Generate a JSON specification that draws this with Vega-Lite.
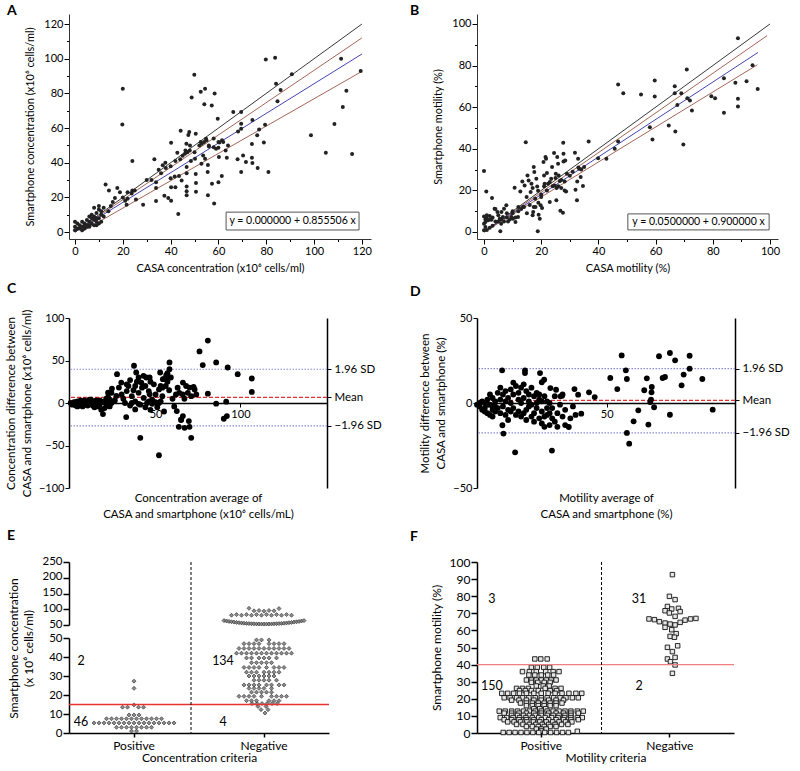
{
"$schema":"https://vega.github.io/schema/vega-lite/v6.json",
"padding":{"left":5,"top":4,"right":5,"bottom":2},
"config":{"font":"Lato","view":{"stroke":null},
"axis":{"grid":false,"domainColor":"#000","tickColor":"#000","labelColor":"#000","titleColor":"#000","labelFontSize":11,"titleFontSize":11,"titleFontWeight":"normal","tickSize":4,"labelPadding":1,"titlePadding":8,"labelFont":"Lato","titleFont":"Lato","labelOverlap":false},
"title":{"anchor":"start","frame":"group","fontSize":14,"fontWeight":"bold","font":"Lato","offset":4}},
"columns":2,
"spacing":{"row":9,"column":28},
"resolve":{"scale":{"color":"independent","strokeDash":"independent","strokeWidth":"independent","xOffset":"independent"}},
"datasets":{
"aL":[{"s":"id","x":0,"y":0},{"s":"id","x":120,"y":120},{"s":"up","x":0,"y":0},{"s":"up","x":120,"y":112},{"s":"fit","x":0,"y":0},{"s":"fit","x":120,"y":102.7},{"s":"lo","x":2.5,"y":0},{"s":"lo","x":120,"y":92.7}],
"bL":[{"s":"id","x":0,"y":0},{"s":"id","x":100,"y":100},{"s":"up","x":0,"y":0},{"s":"up","x":99,"y":94.4},{"s":"fit","x":0,"y":0.05},{"s":"fit","x":95.8,"y":86.3},{"s":"lo","x":0,"y":0},{"s":"lo","x":95.6,"y":80.4}],
"a":[{"x":0,"y":6},{"x":0,"y":3},{"x":0,"y":1},{"x":1,"y":5},{"x":1,"y":2},{"x":2,"y":4},{"x":3,"y":6},{"x":3,"y":3},{"x":4,"y":5},{"x":4,"y":2},{"x":5,"y":4},{"x":5,"y":7},{"x":5,"y":3},{"x":6,"y":9},{"x":6,"y":6},{"x":6,"y":4},{"x":7,"y":10},{"x":7,"y":5},{"x":7,"y":8},{"x":8,"y":14},{"x":8,"y":7},{"x":8,"y":4},{"x":8,"y":9},{"x":9,"y":6},{"x":9,"y":11},{"x":9,"y":4},{"x":10,"y":15},{"x":10,"y":8},{"x":10,"y":5},{"x":10,"y":13},{"x":11,"y":6},{"x":11,"y":12},{"x":12,"y":14},{"x":12,"y":9},{"x":3,"y":1},{"x":2,"y":2},{"x":4,"y":4},{"x":6,"y":3},{"x":9,"y":8},{"x":11,"y":10},
{"x":14,"y":12},{"x":15,"y":15},{"x":20,"y":20},{"x":21,"y":18},{"x":22,"y":23},{"x":24,"y":24},{"x":30,"y":30},{"x":32,"y":30},{"x":35,"y":36},{"x":38,"y":37},{"x":36,"y":34},{"x":40,"y":38},{"x":42,"y":41},{"x":44,"y":42},{"x":45,"y":44},{"x":47,"y":46},{"x":48,"y":47},{"x":50,"y":46},{"x":52,"y":50},{"x":53,"y":51},{"x":54,"y":52},{"x":56,"y":50},{"x":58,"y":49},{"x":55,"y":53},{"x":62,"y":52},{"x":64,"y":50},{"x":60,"y":52},{"x":58,"y":54},
{"x":20,"y":82.7},{"x":19.8,"y":62},{"x":24,"y":41},{"x":12.8,"y":27.5},{"x":14.2,"y":24},{"x":17.7,"y":25.4},{"x":18.8,"y":23},{"x":16.7,"y":19.6},{"x":15.8,"y":17.3},{"x":21.6,"y":15.8},{"x":23.7,"y":22.3},{"x":25,"y":24},{"x":25.5,"y":18.8},{"x":28.5,"y":15.8},{"x":22,"y":19.2},{"x":33.2,"y":42},{"x":33.9,"y":28.7},{"x":33.9,"y":17.9},{"x":33.9,"y":25.4},{"x":36.7,"y":38.5},{"x":37.8,"y":40},{"x":37.4,"y":21},{"x":39,"y":19.6},{"x":40.2,"y":51.5},{"x":40,"y":31},{"x":40.2,"y":25.8},{"x":40.2,"y":18},{"x":41.7,"y":32},{"x":42,"y":25.8},{"x":43.2,"y":10.4},{"x":44.2,"y":58.5},{"x":42.8,"y":45.8},{"x":43.5,"y":32.3},{"x":44.6,"y":29.8},{"x":46,"y":45.2},{"x":46.2,"y":47},{"x":46.6,"y":51},{"x":46.7,"y":37.5},{"x":46.7,"y":34},{"x":46.7,"y":23.5},{"x":46.7,"y":21.3},{"x":46.7,"y":26.3},{"x":47.4,"y":56},{"x":47.8,"y":57.7},{"x":48.1,"y":50},{"x":48.5,"y":41},{"x":48.8,"y":77.7},{"x":49.9,"y":90.8},{"x":50.5,"y":56.7},{"x":50.2,"y":42.3},{"x":50.5,"y":33.5},{"x":50.6,"y":28.3},{"x":50.6,"y":23.3},{"x":52.6,"y":81},{"x":52.6,"y":52},{"x":52.9,"y":39.4},{"x":53.6,"y":44.2},{"x":54.4,"y":82.7},{"x":54.1,"y":73.8},{"x":54.8,"y":53.8},{"x":54.4,"y":42.3},{"x":55.6,"y":38.7},{"x":55.5,"y":34.6},{"x":55.6,"y":21.3},{"x":56,"y":49.4},{"x":57.2,"y":73},{"x":57.3,"y":27.9},{"x":58.2,"y":16.5},{"x":58.4,"y":80},{"x":59,"y":48.1},{"x":59.7,"y":65.4},{"x":60,"y":48.7},{"x":60.4,"y":51.7},{"x":60.2,"y":43.3},{"x":60,"y":28.7},{"x":61.4,"y":32.3},{"x":61.5,"y":52.9},{"x":63,"y":47},{"x":63.5,"y":42.9},{"x":66.2,"y":69.2},{"x":68,"y":42},{"x":68.2,"y":58},{"x":69.5,"y":69.2},{"x":69.5,"y":62.5},{"x":69.5,"y":59.6},{"x":69.5,"y":34.6},{"x":70.3,"y":44.2},{"x":71.5,"y":40.4},{"x":74,"y":50.8},{"x":74.2,"y":64.6},{"x":74,"y":42.9},{"x":74.2,"y":39.8},{"x":76.2,"y":55.8},{"x":76.4,"y":36.9},{"x":77,"y":59.2},{"x":79,"y":51.7},{"x":79.5,"y":61.9},{"x":79.8,"y":99.6},{"x":80.9,"y":34.6},{"x":83.7,"y":100.6},{"x":84.1,"y":85.6},{"x":84.7,"y":75.4},{"x":86,"y":82},{"x":90.7,"y":91},{"x":98.7,"y":55.8},{"x":104.9,"y":45.8},{"x":108.5,"y":62.3},{"x":111.3,"y":100},{"x":112,"y":72.1},{"x":113.5,"y":81.5},{"x":115.9,"y":45},{"x":119.5,"y":92.9}],
"b":[{"x":0,"y":29.3},{"x":0.8,"y":19.5},{"x":2.8,"y":16.3},{"x":0,"y":7.5},{"x":0.5,"y":6},{"x":0.5,"y":4.8},{"x":0.8,"y":6.9},{"x":1.4,"y":5.6},{"x":2,"y":7.7},{"x":2.6,"y":5.9},{"x":0,"y":0.8},{"x":0.5,"y":2.4},{"x":3.7,"y":11.2},{"x":4.7,"y":9.6},{"x":5.5,"y":6.4},{"x":5.7,"y":0.3},{"x":6.1,"y":9.6},{"x":6.6,"y":7.2},{"x":7,"y":11.2},{"x":7.8,"y":12.8},{"x":8.4,"y":5.1},{"x":9.6,"y":7.2},{"x":10.7,"y":21.3},{"x":10.1,"y":6.4},{"x":11,"y":4.8},{"x":11.9,"y":7.2},{"x":12.7,"y":19.5},{"x":13.4,"y":24.3},{"x":13.6,"y":12},{"x":14.2,"y":22.4},{"x":14.6,"y":43.2},{"x":14.9,"y":16.8},{"x":15.2,"y":27.2},{"x":15.6,"y":24.8},{"x":16.3,"y":19.2},{"x":16.6,"y":23.2},{"x":17,"y":21.1},{"x":17.2,"y":9.6},{"x":17.4,"y":12},{"x":17.4,"y":31.2},{"x":17.6,"y":28.8},{"x":18.3,"y":25.6},{"x":17.9,"y":16},{"x":18.6,"y":21.9},{"x":18.8,"y":0.3},{"x":18.9,"y":19.8},{"x":19.1,"y":8.3},{"x":19.5,"y":6.4},{"x":19.8,"y":12.8},{"x":20,"y":16.8},{"x":20.3,"y":11.5},{"x":20.8,"y":33.6},{"x":21,"y":27.2},{"x":21.2,"y":23.2},{"x":21.5,"y":36},{"x":21.7,"y":35.2},{"x":22,"y":28.3},{"x":22.4,"y":23.2},{"x":23,"y":14.4},{"x":23.5,"y":25.6},{"x":23.8,"y":31.2},{"x":24.5,"y":38},{"x":24.7,"y":22.4},{"x":25.1,"y":28},{"x":25.3,"y":15.2},{"x":25.4,"y":21.1},{"x":25.6,"y":36},{"x":25.9,"y":32.8},{"x":26.1,"y":27.2},{"x":26.5,"y":24.5},{"x":26.7,"y":10.2},{"x":27,"y":21.1},{"x":27.6,"y":9.3},{"x":27.7,"y":42.9},{"x":27.8,"y":37.6},{"x":27.8,"y":33.9},{"x":28.2,"y":20},{"x":28.2,"y":24.3},{"x":28.4,"y":34.4},{"x":28.7,"y":19.5},{"x":31.8,"y":38.1},{"x":32,"y":20.3},{"x":32.5,"y":15.2},{"x":32.9,"y":35.2},{"x":32.6,"y":24.3},{"x":33.3,"y":30.4},{"x":33.8,"y":26.4},{"x":34.6,"y":22.1},{"x":36.6,"y":43.5},{"x":35,"y":31.2},{"x":39.9,"y":35.5},{"x":42.8,"y":35.2},{"x":45.7,"y":40},{"x":46.9,"y":43.5},{"x":46.9,"y":70.9},{"x":48.7,"y":66.7},{"x":54.9,"y":66.1},{"x":59.7,"y":72.8},{"x":59.7,"y":65.1},{"x":58,"y":50.4},{"x":58.9,"y":44.5},{"x":64.6,"y":51.2},{"x":66.7,"y":70.1},{"x":66.7,"y":66.7},{"x":66.9,"y":48.3},{"x":67.6,"y":61.1},{"x":69,"y":66.7},{"x":69.7,"y":42.1},{"x":70.9,"y":78.1},{"x":71.1,"y":64.3},{"x":72,"y":63.2},{"x":72.7,"y":58.4},{"x":80.8,"y":64.3},{"x":79.5,"y":65.3},{"x":83.9,"y":73.9},{"x":83.9,"y":57.3},{"x":87.9,"y":71.7},{"x":88.8,"y":93.1},{"x":88.8,"y":64},{"x":88.8,"y":60.3},{"x":91.8,"y":72.5},{"x":93.9,"y":80.2},{"x":95.7,"y":68.8},
{"x":1,"y":8},{"x":2,"y":6},{"x":3,"y":7},{"x":4,"y":11},{"x":5,"y":8},{"x":6,"y":4},{"x":7,"y":5},{"x":8,"y":7},{"x":9,"y":6},{"x":10,"y":9},{"x":11,"y":7},{"x":12,"y":10},{"x":13,"y":11},{"x":14,"y":12},{"x":15,"y":9},{"x":16,"y":13},{"x":17,"y":8},{"x":18,"y":12},{"x":19,"y":14},{"x":20,"y":18},{"x":21,"y":22},{"x":22,"y":20},{"x":23,"y":24},{"x":24,"y":22},{"x":25,"y":26},{"x":26,"y":22},{"x":27,"y":25},{"x":29,"y":28},{"x":30,"y":27},{"x":31,"y":29},{"x":33,"y":31},{"x":34,"y":30},{"x":0,"y":4},{"x":1,"y":1},{"x":2,"y":2},{"x":3,"y":3},{"x":4,"y":5},{"x":5,"y":5},{"x":6,"y":6},{"x":8,"y":9},{"x":10,"y":10},{"x":12,"y":12}],
"c":[{"x":27.3,"y":33.9},{"x":28.4,"y":18.1},{"x":29.8,"y":24},{"x":32.7,"y":-16.6},{"x":37.3,"y":43.8},{"x":38.6,"y":35.9},{"x":41,"y":-41},{"x":38,"y":-7.5},{"x":41.6,"y":24},{"x":42.9,"y":32},{"x":44.5,"y":30},{"x":46.5,"y":30},{"x":46.5,"y":10.3},{"x":52,"y":-61.5},{"x":52.7,"y":35.9},{"x":54.3,"y":28},{"x":56.3,"y":32.7},{"x":58.2,"y":47.7},{"x":58.2,"y":39.8},{"x":62.5,"y":-9.5},{"x":63.7,"y":-28},{"x":65.1,"y":-19.3},{"x":66.1,"y":-15.4},{"x":66.1,"y":24},{"x":67.1,"y":-29.2},{"x":70,"y":-28},{"x":71,"y":-41},{"x":69.6,"y":-21.3},{"x":70,"y":18.1},{"x":72.4,"y":18.9},{"x":75.9,"y":60.7},{"x":77.8,"y":44.6},{"x":80.8,"y":73.4},{"x":80.8,"y":11},{"x":85.7,"y":47.7},{"x":85.7,"y":-0.8},{"x":90.2,"y":-18.5},{"x":92,"y":-15.4},{"x":91.6,"y":1.6},{"x":92.5,"y":41.8},{"x":98.4,"y":33.9},{"x":106.7,"y":13},{"x":106.7,"y":28.8},{"x":26.9,"y":8.3},{"x":22,"y":12.2},{"x":24.3,"y":17},
{"x":0,"y":0},{"x":1,"y":-2},{"x":2,"y":1},{"x":3,"y":-3},{"x":4,"y":2},{"x":5,"y":-1},{"x":6,"y":3},{"x":7,"y":-4},{"x":8,"y":0},{"x":9,"y":2},{"x":10,"y":-3},{"x":11,"y":4},{"x":12,"y":-1},{"x":13,"y":1},{"x":14,"y":-5},{"x":15,"y":3},{"x":16,"y":0},{"x":17,"y":-2},{"x":18,"y":-8},{"x":19,"y":-13},{"x":20,"y":2},{"x":21,"y":5},{"x":22,"y":-3},{"x":23,"y":4},{"x":24,"y":0},{"x":25,"y":2},{"x":3,"y":1},{"x":5,"y":2},{"x":7,"y":0},{"x":9,"y":-2},{"x":11,"y":1},{"x":13,"y":-3},{"x":15,"y":-1},{"x":17,"y":3},{"x":19,"y":1},{"x":21,"y":-1},{"x":23,"y":-4},{"x":26,"y":3},{"x":2,"y":-1},{"x":4,"y":-4},{"x":6,"y":-2},{"x":8,"y":3},{"x":10,"y":1},{"x":12,"y":4},{"x":14,"y":0},{"x":16,"y":-4},{"x":18,"y":2},{"x":20,"y":-6},{"x":22,"y":7},{"x":24,"y":12},
{"x":30,"y":10},{"x":31,"y":5},{"x":32,"y":0},{"x":33,"y":14},{"x":34,"y":20},{"x":35,"y":-3},{"x":36,"y":8},{"x":37,"y":15},{"x":38,"y":2},{"x":39,"y":25},{"x":40,"y":12},{"x":41,"y":-2},{"x":42,"y":18},{"x":43,"y":6},{"x":44,"y":20},{"x":45,"y":0},{"x":46,"y":14},{"x":47,"y":-8},{"x":48,"y":4},{"x":49,"y":22},{"x":50,"y":10},{"x":51,"y":-5},{"x":52,"y":16},{"x":53,"y":2},{"x":54,"y":8},{"x":55,"y":-10},{"x":56,"y":20},{"x":57,"y":25},{"x":58,"y":15},{"x":59,"y":30},{"x":60,"y":5},{"x":61,"y":-4},{"x":62,"y":10},{"x":63,"y":18},{"x":64,"y":12},{"x":65,"y":-20},{"x":66,"y":10},{"x":67,"y":5},{"x":68,"y":20},{"x":69,"y":12},{"x":71,"y":8},{"x":73,"y":16},{"x":74,"y":10},{"x":50,"y":1},{"x":48,"y":-1},{"x":52,"y":0},{"x":46,"y":2},{"x":40,"y":-1},{"x":36,"y":0},{"x":44,"y":-5},{"x":55,"y":28},{"x":57,"y":35},{"x":58,"y":30},{"x":54,"y":18},{"x":53,"y":20},{"x":47,"y":25},{"x":38,"y":20},{"x":35,"y":27},{"x":33,"y":22},{"x":40,"y":30}],
"d":[{"x":9.7,"y":19.2},{"x":9.8,"y":-13.1},{"x":10.2,"y":-18},{"x":14.7,"y":-29},{"x":18.5,"y":19.2},{"x":18.5,"y":17.6},{"x":24.3,"y":17.6},{"x":25.9,"y":13.7},{"x":28.9,"y":-28},{"x":28.3,"y":8.8},{"x":25,"y":12.2},{"x":37.6,"y":8.2},{"x":40.2,"y":-6.3},{"x":39,"y":4.9},{"x":43.2,"y":6.3},{"x":45.4,"y":3.5},{"x":35.4,"y":-14.1},{"x":32.2,"y":3.9},{"x":32.8,"y":4.3},{"x":30.5,"y":7.8},{"x":51.4,"y":14.7},{"x":54.1,"y":8.2},{"x":55.8,"y":28},{"x":57.4,"y":19.2},{"x":57.8,"y":14.1},{"x":57.8,"y":-17.6},{"x":58.7,"y":-23.9},{"x":60.4,"y":-10.8},{"x":62.2,"y":-4.3},{"x":64.5,"y":7.5},{"x":65.5,"y":14.5},{"x":66.1,"y":-12.7},{"x":66.8,"y":0.6},{"x":67.1,"y":2},{"x":67.4,"y":9.4},{"x":67.3,"y":6.3},{"x":68.3,"y":-2.5},{"x":70.2,"y":27.5},{"x":71.6,"y":14.7},{"x":72.5,"y":15.3},{"x":74.4,"y":29.4},{"x":74.4,"y":-6.9},{"x":76.4,"y":25.1},{"x":78.9,"y":10.4},{"x":79.7,"y":16.7},{"x":82,"y":27.8},{"x":82,"y":20.2},{"x":86.9,"y":14.1},{"x":90.9,"y":-3.9},
{"x":1,"y":-2},{"x":2,"y":1},{"x":2,"y":-4},{"x":3,"y":-5},{"x":3,"y":-3},{"x":4,"y":2},{"x":4,"y":-6},{"x":5,"y":-7},{"x":5,"y":-1},{"x":6,"y":3},{"x":6,"y":-4},{"x":6,"y":-8},{"x":7,"y":1},{"x":7,"y":-5},{"x":8,"y":6},{"x":8,"y":-3},{"x":9,"y":-6},{"x":9,"y":2},{"x":10,"y":5},{"x":10,"y":-2},{"x":11,"y":7},{"x":11,"y":-7},{"x":11,"y":1},{"x":12,"y":3},{"x":12,"y":-4},{"x":12,"y":-10},{"x":13,"y":8},{"x":13,"y":0},{"x":13,"y":-5},{"x":14,"y":12},{"x":14,"y":-3},{"x":14,"y":5},{"x":15,"y":10},{"x":15,"y":-7},{"x":16,"y":6},{"x":16,"y":2},{"x":16,"y":-5},{"x":17,"y":9},{"x":17,"y":-8},{"x":17,"y":0},{"x":18,"y":3},{"x":18,"y":-6},{"x":18,"y":11},{"x":19,"y":7},{"x":19,"y":-4},{"x":19,"y":-10},{"x":20,"y":5},{"x":20,"y":-2},{"x":20,"y":1},{"x":21,"y":-8},{"x":21,"y":9},{"x":21,"y":-1},{"x":22,"y":4},{"x":22,"y":-6},{"x":22,"y":-11},{"x":23,"y":6},{"x":23,"y":-3},{"x":23,"y":0},{"x":24,"y":2},{"x":24,"y":-9},{"x":24,"y":5},{"x":25,"y":-5},{"x":25,"y":-12},{"x":25,"y":1},{"x":26,"y":4},{"x":26,"y":-8},{"x":26,"y":-14},{"x":27,"y":-3},{"x":27,"y":1},{"x":27,"y":-7},{"x":28,"y":0},{"x":28,"y":-6},{"x":28,"y":-13},{"x":29,"y":-9},{"x":29,"y":-3},{"x":30,"y":4},{"x":30,"y":-11},{"x":31,"y":-14},{"x":31,"y":-6},{"x":32,"y":-1},{"x":33,"y":-8},{"x":33,"y":5},{"x":34,"y":-4},{"x":34,"y":-13},{"x":36,"y":-9},{"x":37,"y":-2},{"x":38,"y":-7},{"x":5,"y":5},{"x":7,"y":-2},{"x":9,"y":9},{"x":3,"y":0},{"x":4,"y":-1},{"x":1,"y":0},{"x":0,"y":-1},{"x":6,"y":-2}],
"e":[{"c":"P","j":0,"v":27.3},{"c":"P","j":0,"v":23.5},{"c":"P","j":0,"v":14.8},{"c":"P","j":-2.3,"v":13.6},{"c":"P","j":-1.3,"v":13.6},{"c":"P","j":0.9,"v":13.6},{"c":"P","j":1.9,"v":13.6},{"c":"P","j":-1,"v":9.5},{"c":"P","j":0,"v":9.5},{"c":"P","j":1,"v":9.5},
{"c":"P","j":-5.5,"v":7.5},{"c":"P","j":-4.5,"v":7.5},{"c":"P","j":-3.5,"v":7.5},{"c":"P","j":-2.5,"v":7.5},{"c":"P","j":-1.5,"v":7.5},{"c":"P","j":-0.5,"v":7.5},{"c":"P","j":0.5,"v":7.5},{"c":"P","j":1.5,"v":7.5},{"c":"P","j":2.5,"v":7.5},{"c":"P","j":3.5,"v":7.5},{"c":"P","j":4.5,"v":7.5},{"c":"P","j":5.5,"v":7.5},
{"c":"P","j":-8,"v":5.3},{"c":"P","j":-7,"v":5.3},{"c":"P","j":-6,"v":5.3},{"c":"P","j":-5,"v":5.3},{"c":"P","j":-4,"v":5.3},{"c":"P","j":-3,"v":5.3},{"c":"P","j":-2,"v":5.3},{"c":"P","j":-1,"v":5.3},{"c":"P","j":0,"v":5.3},{"c":"P","j":1,"v":5.3},{"c":"P","j":2,"v":5.3},{"c":"P","j":3,"v":5.3},{"c":"P","j":4,"v":5.3},{"c":"P","j":5,"v":5.3},{"c":"P","j":6,"v":5.3},{"c":"P","j":7,"v":5.3},{"c":"P","j":8,"v":5.3},
{"c":"P","j":-3.5,"v":3},{"c":"P","j":-2.5,"v":3},{"c":"P","j":-1.5,"v":3},{"c":"P","j":-0.5,"v":3},{"c":"P","j":0.5,"v":3},{"c":"P","j":1.5,"v":3},{"c":"P","j":2.5,"v":3},{"c":"P","j":3.5,"v":3},{"c":"P","j":-0.5,"v":1},{"c":"P","j":0.5,"v":1},
{"c":"N","j":0.2,"v":10.5},{"c":"N","j":-0.6,"v":12.3},{"c":"N","j":0.8,"v":12.3},{"c":"N","j":-1.2,"v":14},{"c":"N","j":0.4,"v":14},
{"c":"N","j":-2.4,"v":15.5},{"c":"N","j":-1.4,"v":15.5},{"c":"N","j":-0.4,"v":15.5},{"c":"N","j":0.6,"v":15.5},{"c":"N","j":1.6,"v":15.5},{"c":"N","j":2.6,"v":15.5},
{"c":"N","j":-3.5,"v":17},{"c":"N","j":-2.5,"v":17},{"c":"N","j":-1.5,"v":17},{"c":"N","j":1,"v":17},{"c":"N","j":2,"v":17},{"c":"N","j":3,"v":17},
{"c":"N","j":-5,"v":19.3},{"c":"N","j":-4,"v":19.3},{"c":"N","j":-3,"v":19.3},{"c":"N","j":-2,"v":19.3},{"c":"N","j":-0.5,"v":19.3},{"c":"N","j":1.5,"v":19.3},{"c":"N","j":2.5,"v":19.3},{"c":"N","j":3.5,"v":19.3},{"c":"N","j":4.5,"v":19.3},
{"c":"N","j":-2.5,"v":21.5},{"c":"N","j":-1.5,"v":21.5},{"c":"N","j":-0.5,"v":21.5},{"c":"N","j":0.5,"v":21.5},{"c":"N","j":1.5,"v":21.5},
{"c":"N","j":-3,"v":23.5},{"c":"N","j":-2,"v":23.5},{"c":"N","j":-1,"v":23.5},{"c":"N","j":0,"v":23.5},{"c":"N","j":1.5,"v":23.5},
{"c":"N","j":-4,"v":25.3},{"c":"N","j":-3,"v":25.3},{"c":"N","j":-2,"v":25.3},{"c":"N","j":-1,"v":25.3},{"c":"N","j":0.5,"v":25.3},{"c":"N","j":1.5,"v":25.3},{"c":"N","j":3,"v":25.3},{"c":"N","j":4,"v":25.3},
{"c":"N","j":-2,"v":27.8},{"c":"N","j":-1,"v":27.8},{"c":"N","j":0,"v":27.8},{"c":"N","j":1,"v":27.8},{"c":"N","j":2.5,"v":27.8},
{"c":"N","j":-3,"v":30},{"c":"N","j":-2,"v":30},{"c":"N","j":-1,"v":30},{"c":"N","j":0,"v":30},{"c":"N","j":1,"v":30},{"c":"N","j":2,"v":30},
{"c":"N","j":-3.5,"v":32},{"c":"N","j":-2.5,"v":32},{"c":"N","j":-1.5,"v":32},{"c":"N","j":0,"v":32},{"c":"N","j":1,"v":32},{"c":"N","j":2,"v":32},{"c":"N","j":3,"v":32},
{"c":"N","j":-4,"v":34.5},{"c":"N","j":-3,"v":34.5},{"c":"N","j":-2,"v":34.5},{"c":"N","j":-1,"v":34.5},{"c":"N","j":0.5,"v":34.5},{"c":"N","j":2,"v":34.5},{"c":"N","j":3,"v":34.5},{"c":"N","j":4,"v":34.5},
{"c":"N","j":-2.5,"v":37},{"c":"N","j":-1.5,"v":37},{"c":"N","j":-0.5,"v":37},{"c":"N","j":0.5,"v":37},{"c":"N","j":1.5,"v":37},
{"c":"N","j":-3.5,"v":39.5},{"c":"N","j":-2.5,"v":39.5},{"c":"N","j":-1,"v":39.5},{"c":"N","j":0,"v":39.5},{"c":"N","j":1,"v":39.5},{"c":"N","j":2.5,"v":39.5},
{"c":"N","j":-5.5,"v":42},{"c":"N","j":-4.5,"v":42},{"c":"N","j":-3.5,"v":42},{"c":"N","j":-2.5,"v":42},{"c":"N","j":-1.5,"v":42},{"c":"N","j":-0.5,"v":42},{"c":"N","j":0.5,"v":42},{"c":"N","j":1.5,"v":42},{"c":"N","j":2.5,"v":42},{"c":"N","j":3.5,"v":42},{"c":"N","j":4.5,"v":42},{"c":"N","j":5.5,"v":42},
{"c":"N","j":-5,"v":44.5},{"c":"N","j":-4,"v":44.5},{"c":"N","j":-3,"v":44.5},{"c":"N","j":-2,"v":44.5},{"c":"N","j":-1,"v":44.5},{"c":"N","j":0,"v":44.5},{"c":"N","j":1,"v":44.5},{"c":"N","j":2,"v":44.5},{"c":"N","j":3,"v":44.5},{"c":"N","j":4,"v":44.5},{"c":"N","j":5,"v":44.5},
{"c":"N","j":-4,"v":47},{"c":"N","j":-3,"v":47},{"c":"N","j":-2,"v":47},{"c":"N","j":-1,"v":47},{"c":"N","j":1,"v":47},{"c":"N","j":2,"v":47},{"c":"N","j":3,"v":47},{"c":"N","j":4,"v":47},
{"c":"N","j":-1.5,"v":49},{"c":"N","j":-0.5,"v":49},{"c":"N","j":1,"v":49},
{"c":"N","j":-8,"v":64},{"c":"N","j":-7.5,"v":62.7},{"c":"N","j":-7,"v":61.4},{"c":"N","j":-6.5,"v":60.3},{"c":"N","j":-6,"v":59.2},{"c":"N","j":-5.5,"v":58.2},{"c":"N","j":-5,"v":57.3},{"c":"N","j":-4.5,"v":56.5},{"c":"N","j":-4,"v":55.8},{"c":"N","j":-3.5,"v":55.1},{"c":"N","j":-3,"v":54.5},{"c":"N","j":-2.5,"v":54.1},{"c":"N","j":-2,"v":53.7},{"c":"N","j":-1.5,"v":53.4},{"c":"N","j":-1,"v":53.2},{"c":"N","j":-0.5,"v":53},{"c":"N","j":0,"v":53},{"c":"N","j":0.5,"v":53},{"c":"N","j":1,"v":53.2},{"c":"N","j":1.5,"v":53.4},{"c":"N","j":2,"v":53.7},{"c":"N","j":2.5,"v":54.1},{"c":"N","j":3,"v":54.5},{"c":"N","j":3.5,"v":55.1},{"c":"N","j":4,"v":55.8},{"c":"N","j":4.5,"v":56.5},{"c":"N","j":5,"v":57.3},{"c":"N","j":5.5,"v":58.2},{"c":"N","j":6,"v":59.2},{"c":"N","j":6.5,"v":60.3},{"c":"N","j":7,"v":61.4},{"c":"N","j":7.5,"v":62.7},{"c":"N","j":8,"v":64},
{"c":"N","j":-6.5,"v":81},{"c":"N","j":-5.5,"v":83},{"c":"N","j":-4.5,"v":81},{"c":"N","j":-3.5,"v":83},{"c":"N","j":-2.5,"v":81},{"c":"N","j":-1.5,"v":83},{"c":"N","j":-0.5,"v":81},{"c":"N","j":0.5,"v":83},{"c":"N","j":1.5,"v":81},{"c":"N","j":2.5,"v":83},{"c":"N","j":3.5,"v":81},{"c":"N","j":4.5,"v":83},{"c":"N","j":5.5,"v":81},
{"c":"N","j":-2,"v":95},{"c":"N","j":-1,"v":96},{"c":"N","j":0,"v":94},{"c":"N","j":1,"v":96},{"c":"N","j":2,"v":95},{"c":"N","j":-3,"v":103},{"c":"N","j":3,"v":102}],
"f":[{"c":"P","j":-1.3,"v":43.3},{"c":"P","j":-0.1,"v":43.3},{"c":"P","j":1.2,"v":43.3},
{"c":"P","j":-2,"v":38.4},{"c":"P","j":-0.8,"v":38.4},{"c":"P","j":0.5,"v":38.4},{"c":"P","j":1.7,"v":38.4},
{"c":"P","j":-3.8,"v":35.9},{"c":"P","j":-2.4,"v":35.9},{"c":"P","j":-1,"v":35.9},{"c":"P","j":0.9,"v":35.9},{"c":"P","j":2.4,"v":35.9},{"c":"P","j":3.6,"v":35.9},
{"c":"P","j":-2.5,"v":33.9},{"c":"P","j":-1.3,"v":33.9},{"c":"P","j":0,"v":33.9},{"c":"P","j":1.3,"v":33.9},{"c":"P","j":2.5,"v":33.9},
{"c":"P","j":-3,"v":31},{"c":"P","j":-2,"v":31},{"c":"P","j":-1,"v":31},{"c":"P","j":0,"v":31},{"c":"P","j":1,"v":31},{"c":"P","j":2,"v":31},{"c":"P","j":3,"v":31},
{"c":"P","j":-2,"v":29.6},{"c":"P","j":-0.7,"v":29.6},{"c":"P","j":0.6,"v":29.6},{"c":"P","j":1.8,"v":29.6},
{"c":"P","j":-1,"v":27.5},{"c":"P","j":0.4,"v":27.5},{"c":"P","j":1.6,"v":27.5},
{"c":"P","j":-5,"v":26.1},{"c":"P","j":-3.8,"v":26.1},{"c":"P","j":-2.6,"v":26.1},{"c":"P","j":0.8,"v":26.1},{"c":"P","j":2.8,"v":26.1},{"c":"P","j":4,"v":26.1},
{"c":"P","j":-4.4,"v":24.8},{"c":"P","j":-3.2,"v":24.8},{"c":"P","j":-2,"v":24.8},{"c":"P","j":-0.6,"v":24.8},{"c":"P","j":1.8,"v":24.8},{"c":"P","j":3.1,"v":24.8},
{"c":"P","j":-8,"v":23.2},{"c":"P","j":-6.8,"v":23.2},{"c":"P","j":-5.6,"v":23.2},{"c":"P","j":-4.4,"v":23.2},{"c":"P","j":-3,"v":23.2},{"c":"P","j":-1.5,"v":23.2},{"c":"P","j":0,"v":23.2},{"c":"P","j":1.4,"v":23.2},{"c":"P","j":2.8,"v":23.2},{"c":"P","j":4.2,"v":23.2},{"c":"P","j":5.6,"v":23.2},{"c":"P","j":7,"v":23.2},{"c":"P","j":8.2,"v":23.2},
{"c":"P","j":-7.5,"v":20.6},{"c":"P","j":-6.3,"v":20.6},{"c":"P","j":-5,"v":20.6},{"c":"P","j":-3.8,"v":20.6},{"c":"P","j":-2.5,"v":20.6},{"c":"P","j":-1.2,"v":20.6},{"c":"P","j":0,"v":20.6},{"c":"P","j":1.2,"v":20.6},{"c":"P","j":2.5,"v":20.6},{"c":"P","j":3.8,"v":20.6},{"c":"P","j":5,"v":20.6},{"c":"P","j":6.3,"v":20.6},{"c":"P","j":7.5,"v":20.6},
{"c":"P","j":-6,"v":19.2},{"c":"P","j":-4.5,"v":19.2},{"c":"P","j":-3,"v":19.2},{"c":"P","j":-1.5,"v":19.2},{"c":"P","j":0,"v":19.2},{"c":"P","j":1.5,"v":19.2},{"c":"P","j":3,"v":19.2},{"c":"P","j":4.5,"v":19.2},
{"c":"P","j":-4.2,"v":17.5},{"c":"P","j":-3,"v":17.5},{"c":"P","j":-1.8,"v":17.5},{"c":"P","j":-0.6,"v":17.5},{"c":"P","j":0.6,"v":17.5},{"c":"P","j":1.8,"v":17.5},{"c":"P","j":3,"v":17.5},{"c":"P","j":4.2,"v":17.5},
{"c":"P","j":-3,"v":16},{"c":"P","j":-1.8,"v":16},{"c":"P","j":-0.6,"v":16},{"c":"P","j":0.6,"v":16},{"c":"P","j":1.8,"v":16},{"c":"P","j":3,"v":16},
{"c":"P","j":-1.5,"v":14.2},{"c":"P","j":-0.3,"v":14.2},{"c":"P","j":0.9,"v":14.2},
{"c":"P","j":-8.5,"v":12.8},{"c":"P","j":-7.3,"v":12.8},{"c":"P","j":-6,"v":12.8},{"c":"P","j":-4.8,"v":12.8},{"c":"P","j":-3.6,"v":12.8},{"c":"P","j":-2.4,"v":12.8},{"c":"P","j":-1.2,"v":12.8},{"c":"P","j":0,"v":12.8},{"c":"P","j":1.2,"v":12.8},{"c":"P","j":2.4,"v":12.8},{"c":"P","j":3.6,"v":12.8},{"c":"P","j":4.8,"v":12.8},{"c":"P","j":6,"v":12.8},{"c":"P","j":7.3,"v":12.8},{"c":"P","j":8.5,"v":12.8},
{"c":"P","j":-7.5,"v":11.6},{"c":"P","j":-6,"v":11.6},{"c":"P","j":-4.5,"v":11.6},{"c":"P","j":-3,"v":11.6},{"c":"P","j":-1.5,"v":11.6},{"c":"P","j":0,"v":11.6},{"c":"P","j":1.5,"v":11.6},{"c":"P","j":3,"v":11.6},{"c":"P","j":4.5,"v":11.6},{"c":"P","j":6,"v":11.6},{"c":"P","j":7.5,"v":11.6},
{"c":"P","j":-6,"v":10.3},{"c":"P","j":-4.8,"v":10.3},{"c":"P","j":-3.6,"v":10.3},{"c":"P","j":-2.4,"v":10.3},{"c":"P","j":-1.2,"v":10.3},{"c":"P","j":0,"v":10.3},{"c":"P","j":1.2,"v":10.3},{"c":"P","j":2.4,"v":10.3},{"c":"P","j":3.6,"v":10.3},{"c":"P","j":4.8,"v":10.3},{"c":"P","j":6,"v":10.3},
{"c":"P","j":-8.3,"v":9},{"c":"P","j":-7,"v":9},{"c":"P","j":-5.7,"v":9},{"c":"P","j":-4.4,"v":9},{"c":"P","j":-3.1,"v":9},{"c":"P","j":-1.8,"v":9},{"c":"P","j":-0.5,"v":9},{"c":"P","j":0.8,"v":9},{"c":"P","j":2.1,"v":9},{"c":"P","j":3.4,"v":9},{"c":"P","j":4.7,"v":9},{"c":"P","j":6,"v":9},{"c":"P","j":7.3,"v":9},{"c":"P","j":8.3,"v":9},
{"c":"P","j":-7.5,"v":7.8},{"c":"P","j":-6,"v":7.8},{"c":"P","j":-4.5,"v":7.8},{"c":"P","j":-3,"v":7.8},{"c":"P","j":-1.5,"v":7.8},{"c":"P","j":0,"v":7.8},{"c":"P","j":1.5,"v":7.8},{"c":"P","j":3,"v":7.8},{"c":"P","j":4.5,"v":7.8},{"c":"P","j":6,"v":7.8},{"c":"P","j":7.5,"v":7.8},
{"c":"P","j":-6.8,"v":6.5},{"c":"P","j":-5.5,"v":6.5},{"c":"P","j":-4.2,"v":6.5},{"c":"P","j":-2.9,"v":6.5},{"c":"P","j":-1.6,"v":6.5},{"c":"P","j":-0.3,"v":6.5},{"c":"P","j":1,"v":6.5},{"c":"P","j":2.3,"v":6.5},{"c":"P","j":3.6,"v":6.5},{"c":"P","j":4.9,"v":6.5},{"c":"P","j":6.2,"v":6.5},
{"c":"P","j":-5,"v":5},{"c":"P","j":-3.7,"v":5},{"c":"P","j":-2.4,"v":5},{"c":"P","j":-1.1,"v":5},{"c":"P","j":0.2,"v":5},{"c":"P","j":1.5,"v":5},{"c":"P","j":2.8,"v":5},{"c":"P","j":4.1,"v":5},{"c":"P","j":5.4,"v":5},
{"c":"P","j":-3,"v":3.8},{"c":"P","j":-1.8,"v":3.8},{"c":"P","j":-0.6,"v":3.8},{"c":"P","j":0.6,"v":3.8},{"c":"P","j":1.8,"v":3.8},{"c":"P","j":3,"v":3.8},
{"c":"P","j":-1,"v":2.3},{"c":"P","j":0,"v":2.3},{"c":"P","j":1,"v":2.3},{"c":"P","j":0,"v":1.2},
{"c":"P","j":-7.7,"v":0.3},{"c":"P","j":-6.5,"v":0.3},{"c":"P","j":-5.3,"v":0.3},{"c":"P","j":-4.1,"v":0.3},{"c":"P","j":-2.9,"v":0.3},{"c":"P","j":-1.7,"v":0.3},{"c":"P","j":-0.5,"v":0.3},{"c":"P","j":0.7,"v":0.3},{"c":"P","j":1.9,"v":0.3},{"c":"P","j":3.1,"v":0.3},{"c":"P","j":4.3,"v":0.3},{"c":"P","j":5.5,"v":0.3},{"c":"P","j":7.3,"v":1},
{"c":"N","j":0.54,"v":92.6},{"c":"N","j":-0.07,"v":79.9},{"c":"N","j":1.08,"v":78},{"c":"N","j":-0.47,"v":74},{"c":"N","j":-0.95,"v":71.5},{"c":"N","j":0.4,"v":72.5},{"c":"N","j":1.76,"v":72.9},{"c":"N","j":-0.07,"v":70.2},{"c":"N","j":1.08,"v":68.2},{"c":"N","j":2.1,"v":71},{"c":"N","j":-4.2,"v":66.7},{"c":"N","j":-3.1,"v":66.3},{"c":"N","j":-2.1,"v":65.1},{"c":"N","j":-0.95,"v":64.3},{"c":"N","j":0.07,"v":63.7},{"c":"N","j":1.08,"v":63.2},{"c":"N","j":2.1,"v":64.7},{"c":"N","j":3.1,"v":66},{"c":"N","j":4.2,"v":66.7},{"c":"N","j":5.3,"v":67},{"c":"N","j":0.4,"v":60.4},{"c":"N","j":1.3,"v":58.1},{"c":"N","j":0.07,"v":56.5},{"c":"N","j":-0.95,"v":61.8},{"c":"N","j":0.95,"v":56},{"c":"N","j":-0.47,"v":50.1},{"c":"N","j":1.6,"v":51},{"c":"N","j":0.54,"v":47.6},{"c":"N","j":-0.47,"v":43.3},{"c":"N","j":1.08,"v":44.2},{"c":"N","j":0.14,"v":41.7},{"c":"N","j":1.08,"v":39.8},{"c":"N","j":0.54,"v":34.9}]
},
"concat":[
{"width":302,"height":225,"title":{"text":"A","dx":-62,"dy":8},
"resolve":{"axis":{"x":"independent","y":"independent"}},
"layer":[
{"data":{"name":"aL"},"mark":{"type":"line"},
"encoding":{"x":{"field":"x","type":"quantitative","scale":{"domain":[-2.5,123.8],"nice":false,"zero":false},"axis":{"orient":"bottom","values":[0,10,20,30,40,50,60,70,80,90,100,110,120],"labelExpr":"datum.value % 20 ? '' : datum.label","tickSize":{"condition":{"test":"datum.value % 20 != 0","value":2.5},"value":5},"title":"CASA concentration (x10⁶ cells/ml)","domainColor":"#333","titlePadding":6}},
"y":{"field":"y","type":"quantitative","scale":{"domain":[-4,125.8],"nice":false,"zero":false},"axis":{"orient":"left","values":[0,10,20,30,40,50,60,70,80,90,100,110,120],"labelExpr":"datum.value % 20 ? '' : datum.label","tickSize":{"condition":{"test":"datum.value % 20 != 0","value":2.5},"value":5},"title":"Smartphone concentration (x10⁶ cells/ml)","domainColor":"#333"}},
"color":{"field":"s","type":"nominal","scale":{"domain":["id","up","fit","lo"],"range":["#222222","#9c5544","#2e2eaa","#9c5544"]},"legend":null},
"strokeWidth":{"field":"s","type":"nominal","scale":{"domain":["id","up","fit","lo"],"range":[0.9,0.9,1.6,0.9]},"legend":null}}},
{"data":{"values":[{"x":63.2,"x2":118.8,"y":1.2,"y2":11.5}]},"mark":{"type":"rect","fill":"#fff","stroke":"#555","strokeWidth":1},
"encoding":{"x":{"field":"x","type":"quantitative","axis":null},"x2":{"field":"x2"},"y":{"field":"y","type":"quantitative","axis":null},"y2":{"field":"y2"}}},
{"data":{"values":[{"x":91,"y":6.35,"t":"y = 0.000000 + 0.855506 x"}]},"mark":{"type":"text","fontSize":10.5},
"encoding":{"x":{"field":"x","type":"quantitative","axis":null},"y":{"field":"y","type":"quantitative","axis":null},"text":{"field":"t"}}},
{"data":{"name":"a"},"mark":{"type":"circle","size":16,"color":"#222","opacity":1},
"encoding":{"x":{"field":"x","type":"quantitative","axis":null},"y":{"field":"y","type":"quantitative","axis":null}}}]},
{"width":301,"height":225,"title":{"text":"B","dx":-67,"dy":8},
"resolve":{"axis":{"x":"independent","y":"independent"}},
"layer":[
{"data":{"name":"bL"},"mark":{"type":"line"},
"encoding":{"x":{"field":"x","type":"quantitative","scale":{"domain":[-2.45,102.8],"nice":false,"zero":false},"axis":{"orient":"bottom","values":[0,10,20,30,40,50,60,70,80,90,100],"labelExpr":"datum.value % 20 ? '' : datum.label","tickSize":{"condition":{"test":"datum.value % 20 != 0","value":2.5},"value":5},"title":"CASA motility (%)","domainColor":"#333","titlePadding":6}},
"y":{"field":"y","type":"quantitative","scale":{"domain":[-3.37,104.8],"nice":false,"zero":false},"axis":{"orient":"left","values":[0,10,20,30,40,50,60,70,80,90,100],"labelExpr":"datum.value % 20 ? '' : datum.label","tickSize":{"condition":{"test":"datum.value % 20 != 0","value":2.5},"value":5},"title":"Smartphone motility (%)","domainColor":"#333"}},
"color":{"field":"s","type":"nominal","scale":{"domain":["id","up","fit","lo"],"range":["#222222","#9c5544","#2e2eaa","#9c5544"]},"legend":null},
"strokeWidth":{"field":"s","type":"nominal","scale":{"domain":["id","up","fit","lo"],"range":[0.9,0.9,1.6,0.9]},"legend":null}}},
{"data":{"values":[{"x":50.3,"x2":99.7,"y":1,"y2":8.7}]},"mark":{"type":"rect","fill":"#fff","stroke":"#555","strokeWidth":1},
"encoding":{"x":{"field":"x","type":"quantitative","axis":null},"x2":{"field":"x2"},"y":{"field":"y","type":"quantitative","axis":null},"y2":{"field":"y2"}}},
{"data":{"values":[{"x":75,"y":4.85,"t":"y = 0.0500000 + 0.900000 x"}]},"mark":{"type":"text","fontSize":10.5},
"encoding":{"x":{"field":"x","type":"quantitative","axis":null},"y":{"field":"y","type":"quantitative","axis":null},"text":{"field":"t"}}},
{"data":{"name":"b"},"mark":{"type":"circle","size":16,"color":"#222","opacity":1},
"encoding":{"x":{"field":"x","type":"quantitative","axis":null},"y":{"field":"y","type":"quantitative","axis":null}}}]},
{"width":258,"height":170,"title":{"text":"C","dx":-62,"offset":13},
"resolve":{"axis":{"y":"independent"}},
"layer":[
{"data":{"values":[{"y":39.7,"t":"sd"},{"y":6.6,"t":"mean"},{"y":-26.8,"t":"sd"}]},"mark":{"type":"rule","strokeWidth":1.2},
"encoding":{"y":{"field":"y","type":"quantitative","scale":{"domain":[-100,100],"nice":false,"zero":false},"axis":{"orient":"right","values":[39.7,6.6,-26.8],"labelExpr":"datum.value>10?'1.96 SD':datum.value>0?'Mean':'−1.96 SD'","title":null,"domainWidth":1.5,"labelPadding":3,"labelFontSize":11.5}},
"color":{"field":"t","type":"nominal","scale":{"domain":["sd","mean"],"range":["#8a8ad8","#e03030"]},"legend":null},
"strokeDash":{"field":"t","type":"nominal","scale":{"domain":["sd","mean"],"range":[[1.5,1.5],[4,2]]},"legend":null}}},
{"data":{"name":"c"},"mark":{"type":"circle","size":34,"color":"#000","opacity":1},
"encoding":{"x":{"field":"x","type":"quantitative","scale":{"domain":[-1,151],"nice":false,"zero":false},"axis":{"orient":"bottom","offset":-85,"values":[50,100],"title":["Concentration average of","CASA and smartphone  (x10⁶ cells/mL)"],"titleY":89,"titleFontSize":11.5,"titleLineHeight":16,"domainWidth":1.5,"tickSize":4,"labelPadding":1}},
"y":{"field":"y","type":"quantitative","axis":{"orient":"left","values":[-100,-50,0,50,100],"title":["Concentration difference between","CASA and smartphone (x10⁶ cells/ml)"],"titleFontSize":11.5,"titleLineHeight":16,"domainWidth":1.5,"titlePadding":6}}}}]},
{"width":258,"height":170,"title":{"text":"D","dx":-67,"offset":13},
"resolve":{"axis":{"y":"independent"}},
"layer":[
{"data":{"values":[{"y":20.2,"t":"sd"},{"y":1.6,"t":"mean"},{"y":-17.6,"t":"sd"}]},"mark":{"type":"rule","strokeWidth":1.2},
"encoding":{"y":{"field":"y","type":"quantitative","scale":{"domain":[-50,50],"nice":false,"zero":false},"axis":{"orient":"right","values":[20.2,1.6,-17.6],"labelExpr":"datum.value>10?'1.96 SD':datum.value>0?'Mean':'−1.96 SD'","title":null,"domainWidth":1.5,"labelPadding":3,"labelFontSize":11.5}},
"color":{"field":"t","type":"nominal","scale":{"domain":["sd","mean"],"range":["#8a8ad8","#e03030"]},"legend":null},
"strokeDash":{"field":"t","type":"nominal","scale":{"domain":["sd","mean"],"range":[[1.5,1.5],[4,2]]},"legend":null}}},
{"data":{"name":"d"},"mark":{"type":"circle","size":34,"color":"#000","opacity":1},
"encoding":{"x":{"field":"x","type":"quantitative","scale":{"domain":[0,99.5],"nice":false,"zero":false},"axis":{"orient":"bottom","offset":-85,"values":[50],"title":["Motility average of","CASA and smartphone (%)"],"titleY":89,"titleFontSize":11.5,"titleLineHeight":16,"domainWidth":1.5,"tickSize":4,"labelPadding":1}},
"y":{"field":"y","type":"quantitative","axis":{"orient":"left","values":[-50,0,50],"title":["Motility difference between","CASA and smartphone (%)"],"titleFontSize":11.5,"titleLineHeight":16,"domainWidth":1.5,"titlePadding":6}}}}]},
{"width":260,"height":171,"title":{"text":"E","dx":-62,"offset":12},
"resolve":{"scale":{"y":"independent"},"axis":{"x":"independent","y":"independent"}},
"layer":[
{"resolve":{"axis":{"x":"independent","y":"independent"}},
"layer":[
{"data":{"name":"e"},"transform":[{"filter":"datum.v<=50"}],"mark":{"type":"point","shape":"diamond","size":16,"filled":true,"fill":"#8c8c8c","stroke":"#222","strokeWidth":0.6,"opacity":1},
"encoding":{"x":{"field":"c","type":"nominal","scale":{"type":"band","domain":["P","N"],"paddingInner":0,"paddingOuter":0},"axis":{"orient":"bottom","labelExpr":"datum.value=='P'?'Positive':'Negative'","title":"Concentration criteria","labelAngle":0,"labelAlign":"center","domainWidth":1.5,"tickWidth":1.5,"labelFontSize":12,"titleFontSize":12,"titlePadding":1,"labelPadding":3}},
"xOffset":{"field":"j","type":"quantitative","scale":{"domain":[-13,13],"range":[0,130]}},
"y":{"field":"v","type":"quantitative","scale":{"domain":[0,50],"range":[171,76],"nice":false,"zero":false},"axis":{"orient":"left","values":[0,10,20,30,40,50],"title":["Smartphone concentration","(x 10⁶ cells/ml)"],"titleY":86,"titleLineHeight":15,"domainWidth":1.5,"tickWidth":1.5,"tickSize":6,"labelFontSize":11.5,"titleFontSize":12,"titlePadding":13}}}},
{"data":{"values":[{"v":15}]},"mark":{"type":"rule","stroke":"#e8322e","strokeWidth":1.3},"encoding":{"y":{"field":"v","type":"quantitative","axis":null}}},
{"data":{"values":[{"c":"P","j":11.4}]},"mark":{"type":"rule","color":"#000","strokeDash":[3,2],"strokeWidth":1},"encoding":{"x":{"field":"c","type":"nominal","axis":null},"xOffset":{"field":"j","type":"quantitative"}}},
{"data":{"values":[{"c":"P","j":-10.6,"v":38,"t":"2"},{"c":"P","j":-10.6,"v":5.8,"t":"46"},{"c":"N","j":-8.2,"v":38,"t":"134"},{"c":"N","j":-8.2,"v":5.8,"t":"4"}]},"mark":{"type":"text","fontSize":12.5},
"encoding":{"x":{"field":"c","type":"nominal","axis":null},"xOffset":{"field":"j","type":"quantitative"},"y":{"field":"v","type":"quantitative","axis":null},"text":{"field":"t"}}}]},
{"resolve":{"axis":{"x":"independent","y":"independent"}},
"layer":[
{"data":{"name":"e"},"transform":[{"filter":"datum.v>50"}],"mark":{"type":"point","shape":"diamond","size":16,"filled":true,"fill":"#8c8c8c","stroke":"#222","strokeWidth":0.6,"opacity":1},
"encoding":{"x":{"field":"c","type":"nominal","axis":null},"xOffset":{"field":"j","type":"quantitative"},
"y":{"field":"v","type":"quantitative","scale":{"domain":[50,250],"range":[63,0],"nice":false,"zero":false},"axis":{"orient":"left","values":[50,100,150,200,250],"title":null,"domainWidth":1.5,"tickWidth":1.5,"tickSize":6,"labelFontSize":11.5,"labelBaseline":"bottom","labelOffset":4}}}}]}]},
{"width":257,"height":171,"title":{"text":"F","dx":-67,"offset":12},
"resolve":{"axis":{"x":"independent","y":"independent"}},
"layer":[
{"data":{"name":"f"},"mark":{"type":"square","size":20,"filled":true,"fill":"#e6e6e6","stroke":"#111","strokeWidth":0.9,"opacity":1},
"encoding":{"x":{"field":"c","type":"nominal","scale":{"type":"band","domain":["P","N"],"paddingInner":0,"paddingOuter":0},"axis":{"orient":"bottom","labelExpr":"datum.value=='P'?'Positive':'Negative'","title":"Motility criteria","labelAngle":0,"labelAlign":"center","domainWidth":1.5,"tickWidth":1.5,"labelFontSize":12,"titleFontSize":12,"titlePadding":1,"labelPadding":3}},
"xOffset":{"field":"j","type":"quantitative","scale":{"domain":[-13,13],"range":[0,128.5]}},
"y":{"field":"v","type":"quantitative","scale":{"domain":[0,100],"nice":false,"zero":false},"axis":{"orient":"left","values":[0,10,20,30,40,50,60,70,80,90,100],"title":"Smartphone motility (%)","domainWidth":1.5,"tickWidth":1.5,"tickSize":6,"labelFontSize":12,"titleFontSize":12,"titlePadding":6}}}},
{"data":{"values":[{"v":40}]},"mark":{"type":"rule","stroke":"#f08080","strokeWidth":1.3},"encoding":{"y":{"field":"v","type":"quantitative","axis":null}}},
{"data":{"values":[{"c":"P","j":12.2}]},"mark":{"type":"rule","color":"#000","strokeDash":[3,2],"strokeWidth":1},"encoding":{"x":{"field":"c","type":"nominal","axis":null},"xOffset":{"field":"j","type":"quantitative"}}},
{"data":{"values":[{"c":"P","j":-10,"v":78.4,"t":"3"},{"c":"P","j":-10,"v":27.3,"t":"150"},{"c":"N","j":-6.2,"v":78.4,"t":"31"},{"c":"N","j":-6.2,"v":27.3,"t":"2"}]},"mark":{"type":"text","fontSize":12.5},
"encoding":{"x":{"field":"c","type":"nominal","axis":null},"xOffset":{"field":"j","type":"quantitative"},"y":{"field":"v","type":"quantitative","axis":null},"text":{"field":"t"}}}]}
]
}
